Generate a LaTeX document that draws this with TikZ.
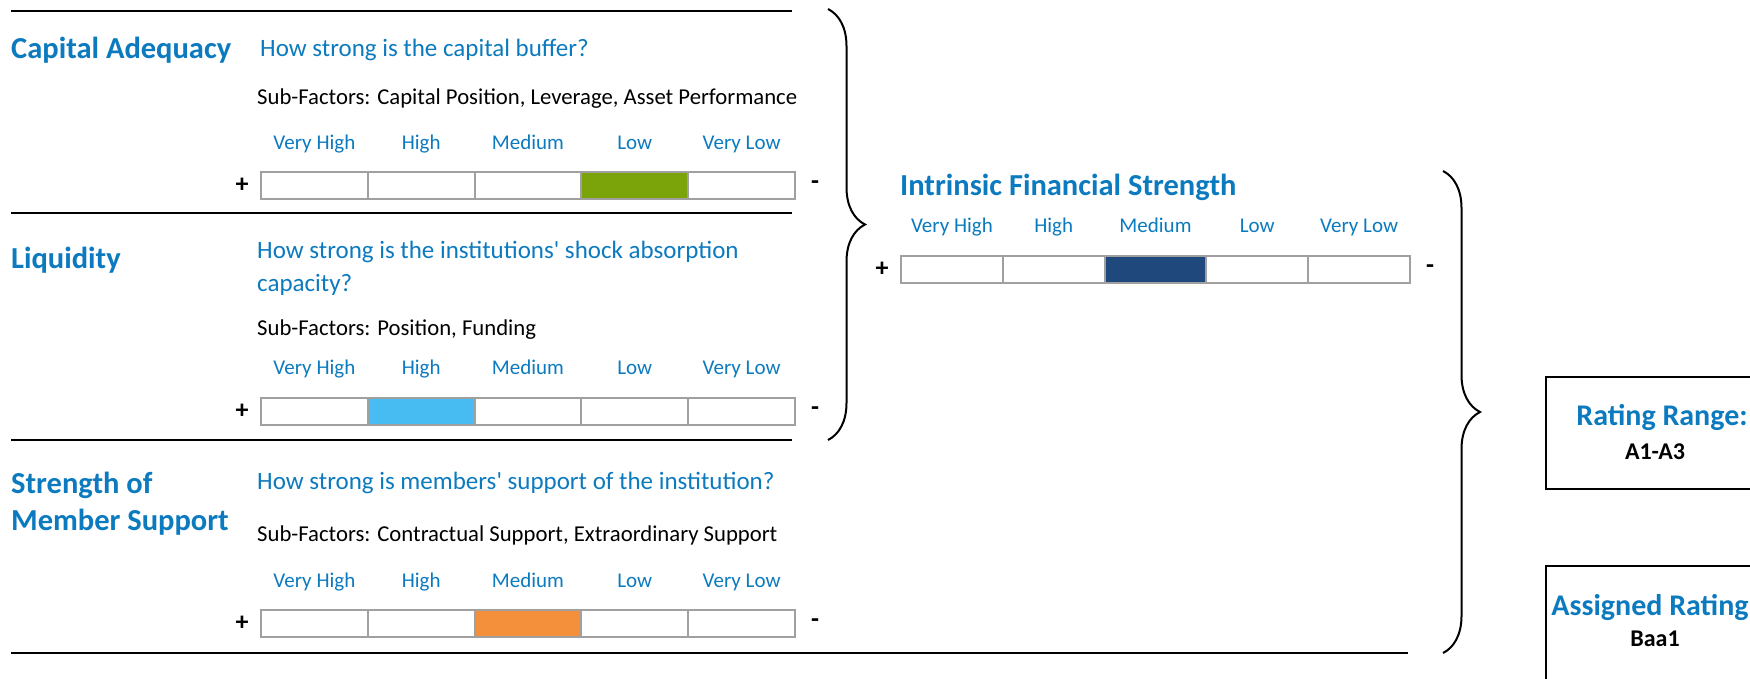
\documentclass[tikz,border=0pt]{standalone}
\usepackage{fontspec}
\setmainfont{Carlito}
\usetikzlibrary{decorations.pathreplacing}
\definecolor{mblue}{RGB}{12,122,190}
\definecolor{cellgray}{RGB}{160,160,160}
\definecolor{lowgreen}{RGB}{122,164,10}
\definecolor{highblue}{RGB}{71,188,242}
\definecolor{medorange}{RGB}{244,143,60}
\definecolor{ifsblue}{RGB}{31,72,124}
\begin{document}
\begin{tikzpicture}[x=1pt,y=-1pt,line cap=butt,line join=miter,
    factor/.style={anchor=west,inner sep=0,text=mblue,align=left,font=\bfseries\fontsize{30.5}{37}\selectfont},
    question/.style={anchor=west,inner sep=0,text=mblue,align=left,font=\fontsize{25}{33}\selectfont},
    subf/.style={anchor=west,inner sep=0,font=\fontsize{22.7}{26}\selectfont},
    lvl/.style={inner sep=0,text height=15pt,text depth=4pt,text=mblue,font=\fontsize{21}{24}\selectfont},
    cell/.style={draw=cellgray,line width=2pt,inner sep=0,minimum height=27pt},
    pm/.style={inner sep=0,font=\bfseries\fontsize{26}{28}\selectfont},
    rule/.style={line width=2.6pt},
    bigbrace/.style={decorate,decoration={brace,amplitude=37pt},line width=2pt},
    rbox/.style={draw,line width=2.5pt,inner sep=0,minimum width=225pt},
    rtitle/.style={inner sep=0,text=mblue,font=\bfseries\fontsize{30}{34}\selectfont},
    rval/.style={inner sep=0,font=\bfseries\fontsize{24}{28}\selectfont}]
    \useasboundingbox (0,0) rectangle (1750,678);
    \clip (0,0) rectangle (1750,678);

    % section rules
    \foreach \y in {11,213,440}
        \draw[rule] (11,\y) -- (792,\y);
    \draw[rule] (11,653) -- (1408,653);

    % factors
    \node[factor] (ca) at (11,50) {Capital Adequacy};
    \node[question] (ca-q) at (260,50) {How strong is the capital buffer?};
    \node[subf] (ca-s) at (257,99) {Sub-Factors: Capital Position, Leverage, Asset Performance};

    \node[factor] (liq) at (11,260) {Liquidity};
    \node[question] (liq-q) at (257,268.5) {How strong is the institutions\textquotesingle{} shock absorption\\capacity?};
    \node[subf] (liq-s) at (257,330) {Sub-Factors: Position, Funding};

    \node[factor] (ms) at (11,503.5) {Strength of\\Member Support};
    \node[question] (ms-q) at (257,483) {How strong is members\textquotesingle{} support of the institution?};
    \node[subf] (ms-s) at (257,535) {Sub-Factors: Contractual Support, Extraordinary Support};

    \node[factor] (ifs) at (900,187) {Intrinsic Financial Strength};

    % score bars: name/left/centre y/cell width/marked cell/colour
    \foreach \nm/\x/\y/\w/\k/\c in {ca/261/185.5/106.8/4/lowgreen,
            liq/261/411/106.8/2/highblue,
            ms/261/623.5/106.8/3/medorange,
            ifs/901/269/101.8/3/ifsblue}{
        \foreach \i/\lab in {1/Very High,2/High,3/Medium,4/Low,5/Very Low}{
            \ifnum\i=\k\def\cc{\c}\else\def\cc{white}\fi
            \node[cell,fill=\cc,minimum width=\w] (\nm-c\i) at ({\x+(\i-0.5)*\w},\y) {};
            \node[lvl] (\nm-l\i) at ([yshift=42pt]\nm-c\i.center) {\lab};
        }
        \node[pm] (\nm-p) at ([xshift=-18pt]\nm-c1.west) {+};
        \node[pm] (\nm-m) at ([xshift=19pt]\nm-c5.east) {-};
    }

    % braces
    \draw[bigbrace] (828,9) -- (828,440);
    \draw[bigbrace] (1443,171) -- (1443,653);

    % ratings
    \node[rbox,minimum height=112pt] (range) at (1658.5,433) {};
    \node[rtitle] (range-t) at (1662,417) {Rating Range:};
    \node[rval] (range-v) at (1655,452) {A1-A3};
    \node[rbox,minimum height=140pt] (assigned) at (1658.5,636) {};
    \node[rtitle] (assigned-t) at (1650,607) {Assigned Rating};
    \node[rval] (assigned-v) at (1655,639) {Baa1};
\end{tikzpicture}
\end{document}
